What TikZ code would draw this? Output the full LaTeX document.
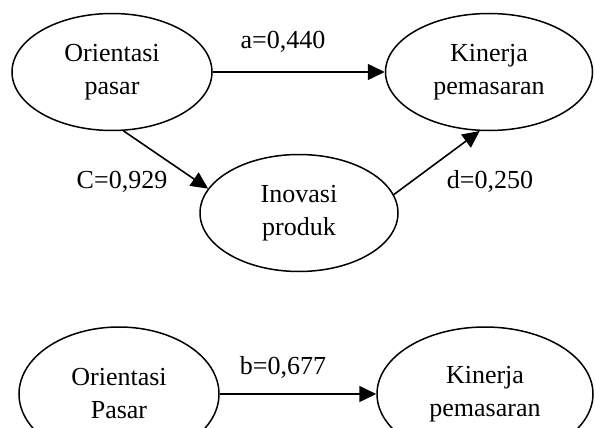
\documentclass[tikz,border=0pt]{standalone}
\usepackage{fontspec}
\setmainfont{Liberation Serif}
\usetikzlibrary{shapes.geometric,arrows.meta}
\begin{document}
\begin{tikzpicture}[x=1pt,y=-1pt,
  construct/.style={draw,ellipse,line width=1.5pt,inner sep=0pt,align=center,
    font=\fontsize{26}{33}\selectfont},
  path/.style={line width=1.6pt,-{Triangle[length=17pt,width=16pt]}},
  coef/.style={font=\fontsize{26}{28}\selectfont,inner sep=0pt}]
\useasboundingbox (0,0) rectangle (595,428);

% model with mediation
\node[construct,minimum width=200pt,minimum height=117pt] (op) at (112,72) {Orientasi\\pasar};
\node[construct,minimum width=207pt,minimum height=117pt] (kp) at (489,72) {Kinerja\\pemasaran};
\node[construct,minimum width=198pt,minimum height=117pt] (ip) at (299,213) {Inovasi\\produk};

\draw[path] (op) -- (kp);
\draw[path] (op.-79) -- (ip.165);
\draw[path] (ip.11) -- (kp.-99);

\node[coef] (la) at (283,42) {a=0,440};
\node[coef] (lc) at (122,182) {C=0,929};
\node[coef] (ld) at (490,181) {d=0,250};

% direct model
\node[construct,minimum width=200pt,minimum height=134pt] (op2) at (119,394) {Orientasi\\Pasar};
\node[construct,minimum width=216pt,minimum height=134pt] (kp2) at (485,394) {Kinerja\\pemasaran};

\draw[path] (op2) -- (kp2);
\node[coef] (lb) at (283,367) {b=0,677};
\end{tikzpicture}
\end{document}
